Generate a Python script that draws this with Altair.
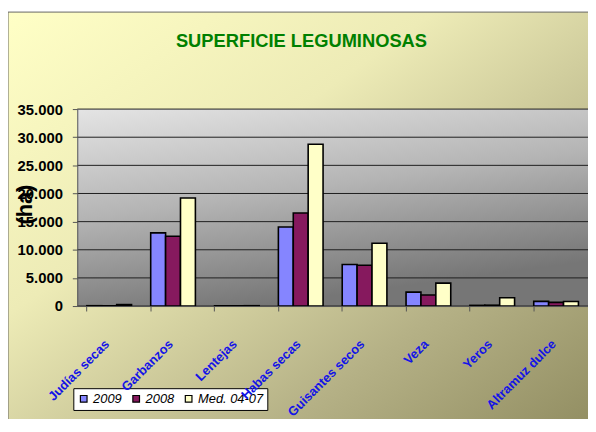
import altair as alt
import pandas as pd

title_text = "SUPERFICIE LEGUMINOSAS"
categories = ["Judías secas", "Garbanzos", "Lentejas", "Habas secas",
              "Guisantes secos", "Veza", "Yeros", "Altramuz dulce"]
series = ["2009", "2008", "Med. 04-07"]
v2009 = [60, 13000, 40, 14050, 7380, 2480, 120, 830]
v2008 = [60, 12400, 40, 16530, 7260, 1950, 150, 650]
vmed = [260, 19200, 60, 28750, 11150, 4070, 1480, 800]
y_ticks = [0, 5000, 10000, 15000, 20000, 25000, 30000, 35000]
colors = ["#8585FF", "#86195E", "#FFFFC8"]

rows = []
for s, vals in zip(series, [v2009, v2008, vmed]):
    for c, v in zip(categories, vals):
        rows.append({"Cultivo": c, "Serie": s, "Superficie": v})
df = pd.DataFrame(rows)
grid_df = pd.DataFrame({"Superficie": y_ticks})

W, H = 516, 199
FONT = "Liberation Sans Narrow, Arial Narrow, Liberation Sans, Arial, sans-serif"

yscale = alt.Scale(domain=[0, 35000], nice=False)
yaxis = alt.Axis(values=y_ticks, grid=False, title="(ha)",
                 titleAngle=270, titleX=-53, titleY=96, titleAlign="center",
                 titleBaseline="middle", titleFont=FONT, titleFontSize=22,
                 titleFontWeight="bold", titleColor="black",
                 labelExpr="replace(format(datum.value, ','), ',', '.')",
                 labelFont=FONT, labelFontSize=15, labelFontWeight="bold",
                 labelColor="black", labelPadding=10, tickSize=5,
                 tickColor="#555555", domainColor="#555555", zindex=1)

one = pd.DataFrame({"t": [title_text]})
bg = alt.Chart(one).mark_rect(
    fill=alt.LinearGradient(
        gradient="linear", x1=0, y1=0, x2=1, y2=1,
        stops=[alt.GradientStop(color="#FFFFC6", offset=0),
               alt.GradientStop(color="#EDEBB6", offset=0.35),
               alt.GradientStop(color="#B5B186", offset=0.7),
               alt.GradientStop(color="#8C885C", offset=1)]),
    stroke="#666666", strokeWidth=1,
).encode(x=alt.value(-70), x2=alt.value(W + 30), y=alt.value(-98), y2=alt.value(H + 140))

title = alt.Chart(one).mark_text(
    font=FONT, fontSize=18.5, fontWeight="bold", color="#008000",
    align="center", baseline="middle",
).encode(text="t:N", x=alt.value(226.5), y=alt.value(-69))

plotbg = alt.Chart(one).mark_rect(
    fill=alt.LinearGradient(
        gradient="linear", x1=0, y1=0, x2=0.35, y2=1,
        stops=[alt.GradientStop(color="#E4E4E4", offset=0),
               alt.GradientStop(color="#B4B4B4", offset=0.5),
               alt.GradientStop(color="#767676", offset=1)]),
).encode(x=alt.value(0), x2=alt.value(W), y=alt.value(0), y2=alt.value(H))

grid = alt.Chart(grid_df).mark_rule(color="#1E1E1E", strokeWidth=1).encode(
    y=alt.Y("Superficie:Q", scale=yscale, axis=yaxis)
)

bars = alt.Chart(df).mark_bar(stroke="black", strokeWidth=1.6).encode(
    x=alt.X("Cultivo:N", sort=categories, title=None,
            scale=alt.Scale(paddingInner=0.3, paddingOuter=0.15),
            axis=alt.Axis(labelAngle=-45, labelAlign="right", labelBaseline="middle",
                          labelPadding=31, labelOffset=-2, labelColor="#1414E6",
                          labelFont=FONT, labelFontWeight="bold", labelFontSize=13,
                          bandPosition=0,
                          tickSize=5, tickColor="#555555", domainColor="#555555",
                          labelOverlap=False, zindex=1)),
    xOffset=alt.XOffset("Serie:N", sort=series, scale=alt.Scale(paddingInner=0, paddingOuter=0)),
    y=alt.Y("Superficie:Q", scale=yscale, axis=yaxis),
    color=alt.Color("Serie:N", sort=series,
                    scale=alt.Scale(domain=series, range=colors),
                    legend=alt.Legend(orient="none", legendX=-4, legendY=282,
                                      direction="horizontal", title=None,
                                      fillColor="white", strokeColor="black",
                                      padding=4, symbolType="square", symbolSize=45,
                                      symbolStrokeColor="black", symbolStrokeWidth=1.2,
                                      labelFont=FONT, labelFontSize=13,
                                      labelFontStyle="italic", labelColor="black",
                                      columnPadding=8, labelOffset=3)),
)

chart = alt.layer(bg, title, plotbg, grid, bars).properties(
    width=W, height=H,
    autosize=alt.AutoSizeParams(type="none"),
    padding={"left": 70, "top": 100, "right": 0, "bottom": 112},
).configure_view(stroke=None).configure(background="white")

chart.save("out.html", embed_options={"renderer": "svg", "actions": False})
